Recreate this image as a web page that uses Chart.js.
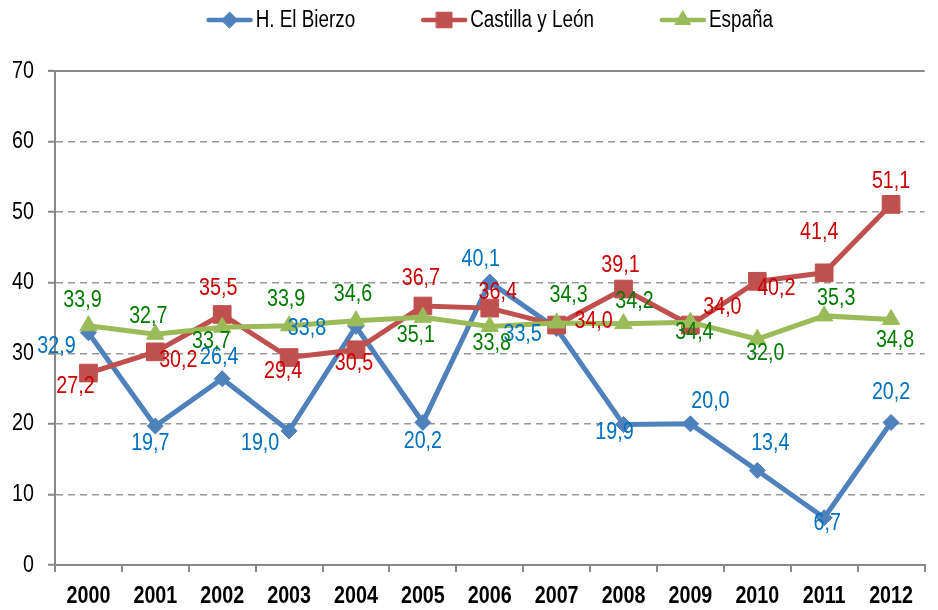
<!DOCTYPE html>
<html><head><meta charset="utf-8">
<script src="https://cdn.jsdelivr.net/npm/chart.js@4.4.1/dist/chart.umd.min.js"></script>
<style>html,body{margin:0;padding:0;background:#fff}#wrap{width:938px;height:610px;position:relative}</style>
</head><body><div id="wrap"><canvas id="c" width="938" height="610"></canvas></div>
<script>
// ---- data ----
const years = ['2000','2001','2002','2003','2004','2005','2006','2007','2008','2009','2010','2011','2012'];
const bierzo   = [32.9, 19.7, 26.4, 19.0, 33.8, 20.2, 40.1, 33.5, 19.9, 20.0, 13.4, 6.7, 20.2];
const castilla = [27.2, 30.2, 35.5, 29.4, 30.5, 36.7, 36.4, 34.0, 39.1, 34.0, 40.2, 41.4, 51.1];
const espana   = [33.9, 32.7, 33.7, 33.9, 34.6, 35.1, 33.8, 34.3, 34.2, 34.4, 32.0, 35.3, 34.8];
const seriesNames = ['H. El Bierzo', 'Castilla y León', 'España'];
const yTicks = [0, 10, 20, 30, 40, 50, 60, 70];

// ---- label placement (style, pixels relative to point) ----
const offBierzo = [[-32,14],[-5,17],[-3,-21],[-29,12],[-49,2],[0,19],[-9,-23],[-34,6],[-9,8],[20,-22],[13,-27],[3,6],[0,-30]];
const offCastilla = [[-13,13],[23,9],[-4,-26],[-6,14],[-2,14],[-2,-28],[8,-16],[37,-4],[-3,-24],[32,-18],[19,7],[-5,-40],[0,-23]];
const offEspana = [[-6,-25],[-7,-18],[-11,14],[-3,-26],[-3,-26],[-7,18],[2,17],[12,-28],[11,-22],[4,10],[8,14],[12,-18],[4,21]];

const FONT = "'Liberation Sans', Arial, sans-serif";
const SX = 0.82; // horizontal squeeze to mimic the narrow face of the original
const lineColors = ['#4F81BD', '#C0504D', '#9BBB59'];
const labelColors = ['#0070C0', '#CC0000', '#007A00'];
const pointStyles = ['rectRot', 'rect', 'triangle'];
const pointRadii = [8, 12.5, 10];
const offsets = [offBierzo, offCastilla, offEspana];

const fmt = v => v.toFixed(1).replace('.', ',');

function txt(ctx, s, x, y, font, color, align) {
  ctx.save();
  ctx.font = font;
  ctx.fillStyle = color;
  ctx.textAlign = align || 'center';
  ctx.textBaseline = 'middle';
  ctx.translate(x, y);
  ctx.scale(SX, 1);
  ctx.fillText(s, 0, 0);
  ctx.restore();
}

const topLinePlugin = {
  id: 'topLine',
  beforeDatasetsDraw(chart) {
    const ctx = chart.ctx, ca = chart.chartArea, ys = chart.scales.y;
    const y = ys.getPixelForValue(yTicks[yTicks.length - 1]);
    ctx.save();
    ctx.strokeStyle = '#8a8a8a';
    ctx.lineWidth = 2;
    ctx.beginPath(); ctx.moveTo(ca.left - 7, y); ctx.lineTo(ca.right, y); ctx.stroke();
    ctx.restore();
  }
};

const labelPlugin = {
  id: 'valueLabels',
  afterDatasetsDraw(chart) {
    const ctx = chart.ctx;
    chart.data.datasets.forEach((ds, di) => {
      const meta = chart.getDatasetMeta(di);
      meta.data.forEach((pt, i) => {
        const o = offsets[di][i];
        txt(ctx, fmt(ds.data[i]), pt.x + o[0], pt.y + o[1], '24px ' + FONT, labelColors[di]);
      });
    });
  }
};

const axisTextPlugin = {
  id: 'axisText',
  afterDraw(chart) {
    const ctx = chart.ctx;
    const xs = chart.scales.x, ys = chart.scales.y;
    years.forEach((yr, i) => {
      txt(ctx, yr, xs.getPixelForTick(i), 596, 'bold 24px ' + FONT, '#000');
    });
    yTicks.forEach(v => {
      txt(ctx, String(v), ys.left + 34, ys.getPixelForValue(v), '24px ' + FONT, '#000', 'right');
    });
  }
};

const legendPlugin = {
  id: 'customLegend',
  afterDraw(chart) {
    const ctx = chart.ctx;
    const font = '23px ' + FONT;
    ctx.save();
    ctx.font = font;
    const iconW = 46, gapIcon = 3, gapItem = 66;
    const widths = seriesNames.map(n => ctx.measureText(n).width * SX);
    ctx.restore();
    let total = 0;
    widths.forEach((w, i) => { total += iconW + gapIcon + w + (i < widths.length - 1 ? gapItem : 0); });
    const ca = chart.chartArea;
    let x = (ca.left + ca.right) / 2 - total / 2;
    const y = 20;
    const legendR = [8, 11, 9];
    seriesNames.forEach((n, i) => {
      ctx.save();
      ctx.strokeStyle = lineColors[i];
      ctx.lineWidth = 4.5;
      ctx.lineCap = 'round';
      ctx.beginPath(); ctx.moveTo(x + 2, y); ctx.lineTo(x + iconW - 2, y); ctx.stroke();
      ctx.fillStyle = lineColors[i];
      ctx.lineWidth = 1;
      Chart.helpers.drawPoint(ctx, {pointStyle: pointStyles[i], radius: legendR[i], borderWidth: 1}, x + iconW / 2, y);
      ctx.restore();
      txt(ctx, n, x + iconW + gapIcon, y + 1, font, '#000', 'left');
      x += iconW + gapIcon + widths[i] + gapItem;
    });
  }
};

const seriesData = [bierzo, castilla, espana];
const datasets = seriesData.map((d, i) => ({
  label: seriesNames[i],
  data: d,
  borderColor: lineColors[i],
  backgroundColor: lineColors[i],
  pointBackgroundColor: lineColors[i],
  pointBorderColor: lineColors[i],
  borderWidth: 5,
  pointStyle: pointStyles[i],
  pointRadius: pointRadii[i],
  pointBorderWidth: 1,
  tension: 0,
  order: 2 - i
}));

new Chart(document.getElementById('c'), {
  type: 'line',
  data: { labels: years, datasets },
  plugins: [topLinePlugin, labelPlugin, axisTextPlugin, legendPlugin],
  options: {
    responsive: false,
    animation: false,
    layout: { padding: { top: 71, right: 0, bottom: 0, left: 0 } },
    plugins: { legend: { display: false }, tooltip: { enabled: false } },
    scales: {
      x: {
        offset: true,
        grid: { display: true, offset: true, drawOnChartArea: false, drawTicks: true, tickLength: 7, color: '#888', lineWidth: 2 },
        border: { display: true, color: '#888', width: 2 },
        ticks: { display: false },
        afterFit(s) { s.height = 45; }
      },
      y: {
        min: 0, max: 70,
        afterBuildTicks(s) { s.ticks = yTicks.map(v => ({ value: v })); },
        grid: { color: '#999', lineWidth: 1.5, tickBorderDash: [], tickColor: '#888', tickLength: 7, tickWidth: 2 },
        border: { display: true, color: '#888', width: 2, dash: [7, 5] },
        ticks: { display: false },
        afterFit(s) { s.width = 55; }
      }
    }
  }
});
</script>
</body></html>
